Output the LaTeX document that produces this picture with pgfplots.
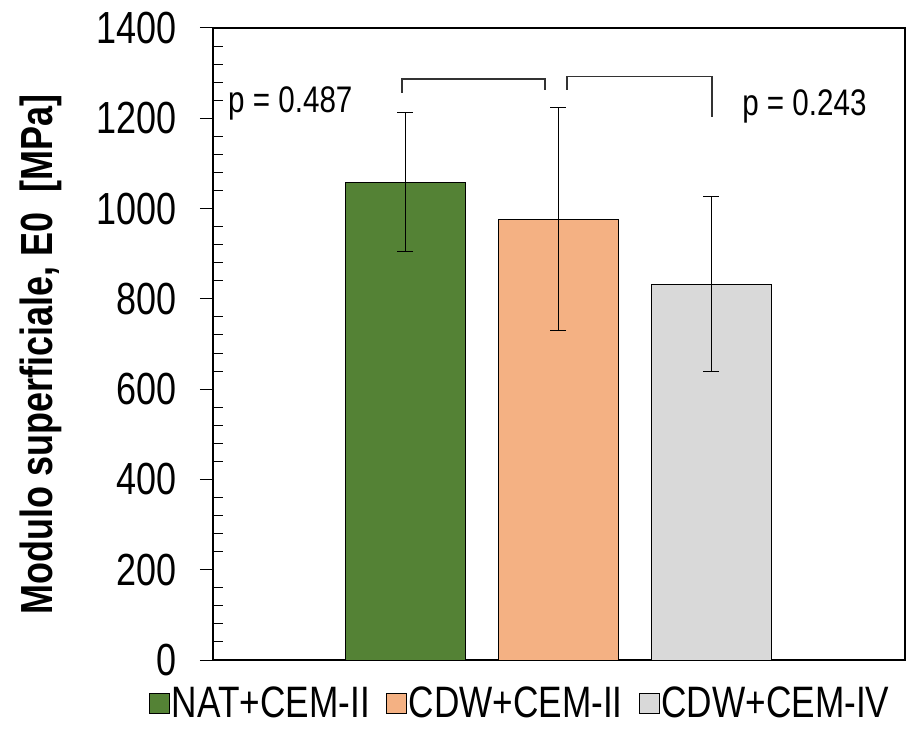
\documentclass[border=0pt]{standalone}
\usepackage{pgfplots}
\pgfplotsset{compat=1.18}
\usepackage{fontspec}
\setmainfont{Liberation Sans}[FakeStretch=0.8]
\definecolor{cgreen}{HTML}{548235}
\definecolor{corange}{HTML}{F4B183}
\definecolor{cgray}{HTML}{D9D9D9}
\begin{document}
\begin{tikzpicture}
\path[use as bounding box] (-213pt,-68pt) rectangle (699pt,660pt);
\begin{axis}[
  at={(0pt,0pt)}, anchor=south west,
  scale only axis, width=692pt, height=632pt,
  xmin=-1.255, xmax=3.268, ymin=0, ymax=1400,
  xtick=\empty,
  ytick={0,200,...,1400},
  minor y tick num=4,
  ytick pos=left,
  tick align=outside,
  major tick length=13pt,
  minor tick length=10pt,
  minor y tick style={xshift=10pt},
  axis line style={line width=1.2pt},
  tick style={line width=1pt, black},
  /pgf/number format/assume math mode=true,
  /pgf/number format/1000 sep={},
  yticklabel style={font=\fontsize{45}{50}\selectfont, xshift=-20pt},
  ylabel={\textbf{Modulo superficiale, E0\ \ [MPa]}},
  every axis y label/.style={at={(axis description cs:0,0.483)}, xshift=-172pt, rotate=90, anchor=center, font=\fontsize{45}{50}\selectfont},
  legend style={at={(axis description cs:0.444,0)}, anchor=center, yshift=-43pt, draw=none, fill=none,
    legend columns=3, font=\fontsize{44}{48}\selectfont, inner sep=0pt,
    /tikz/every even column/.append style={column sep=14pt}},
  legend image code/.code={\draw[#1,draw=black,line width=0.8pt] (0pt,-10pt) rectangle (20pt,10pt);},
  error bars/error bar style={line width=1pt, black},
  error bars/error mark options={rotate=90, mark size=8pt, line width=1pt, black},
]
\addplot[ybar, bar width=0.784, fill=cgreen, draw=black, line width=0.8pt,
  error bars/.cd, y dir=both, y explicit]
  coordinates {(0,1058) +- (0,154)};
\addlegendentry{NAT+CEM-II}
\addplot[ybar, bar width=0.784, fill=corange, draw=black, line width=0.8pt,
  error bars/.cd, y dir=both, y explicit]
  coordinates {(1,977) +- (0,247)};
\addlegendentry{CDW+CEM-II}
\addplot[ybar, bar width=0.784, fill=cgray, draw=black, line width=0.8pt,
  error bars/.cd, y dir=both, y explicit]
  coordinates {(2,833) +- (0,193)};
\addlegendentry{CDW+CEM-IV}
\draw[line width=1.2pt, black!80] (axis cs:-0.02,1256) -- (axis cs:-0.02,1287) -- (axis cs:0.915,1287) -- (axis cs:0.915,1263);
\draw[line width=1.2pt, black!80] (axis cs:1.059,1263) -- (axis cs:1.059,1292) -- (axis cs:2.007,1292) -- (axis cs:2.007,1203);
\node[anchor=west, inner sep=0pt, font=\fontsize{37}{40}\selectfont] at (axis cs:-1.157,1234) {p = 0.487};
\node[anchor=west, inner sep=0pt, font=\fontsize{37}{40}\selectfont] at (axis cs:2.203,1227) {p = 0.243};
\end{axis}
\end{tikzpicture}
\end{document}
